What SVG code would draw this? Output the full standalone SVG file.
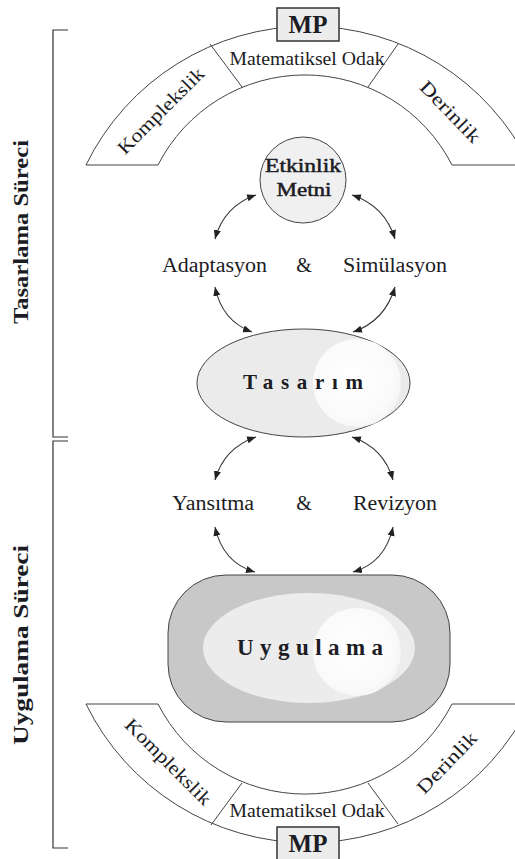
<svg xmlns="http://www.w3.org/2000/svg" width="515" height="859" viewBox="0 0 515 859">
<style>
text{font-family:"Liberation Serif","Times New Roman",serif;fill:#1c1c24}
.band{fill:#fff;stroke:#444;stroke-width:1}
.div{stroke:#444;stroke-width:1;fill:none}
.mpbox{fill:#ececec;stroke:#333;stroke-width:1.5}
.mp{font-size:25px;font-weight:bold;text-anchor:middle}
.bandtxt{font-size:19px;text-anchor:middle}
.lbl{font-size:20px;text-anchor:middle}
.side{font-size:20px;font-weight:bold;text-anchor:middle}
.conn{fill:none;stroke:#333;stroke-width:1.1;marker-start:url(#ah);marker-end:url(#ah)}
.bracket{fill:none;stroke:#333;stroke-width:1.2}
.node-txt{font-size:19px;text-anchor:middle;stroke:#1c1c24;stroke-width:0.5}
</style>
<defs>
<marker id="ah" viewBox="0 0 10 10" refX="10" refY="5" markerWidth="9" markerHeight="9" markerUnits="userSpaceOnUse" orient="auto-start-reverse">
<path d="M0,1 L10,5 L0,9 Z" fill="#222"/>
</marker>
<radialGradient id="hl" cx="0.45" cy="0.45" r="0.6">
<stop offset="0" stop-color="#ffffff"/>
<stop offset="0.8" stop-color="#fafafa"/>
<stop offset="1" stop-color="#f3f3f3"/>
</radialGradient>
</defs>

<g id="brackets">
<path class="bracket" d="M68,30 H53 V437 H68"/>
<path class="bracket" d="M68,441 H53 V848 H68"/>
<text class="side" transform="translate(28,232) rotate(-90)" textLength="184" lengthAdjust="spacingAndGlyphs">Tasarlama Süreci</text>
<text class="side" transform="translate(28,645) rotate(-90)" textLength="200" lengthAdjust="spacingAndGlyphs">Uygulama Süreci</text>
</g>

<g id="top-band">
<path class="band" d="M86,165 A247,247 0 0 1 530,165 L452,165 A165,165 0 0 0 158,165 Z"/>
<line class="div" x1="210" y1="44" x2="242" y2="87"/>
<line class="div" x1="398" y1="44" x2="368" y2="87"/>
<text class="bandtxt" x="307" y="65" textLength="155" lengthAdjust="spacingAndGlyphs">Matematiksel Odak</text>
<text class="bandtxt" transform="translate(161,111) rotate(-45)" y="6" textLength="114" lengthAdjust="spacingAndGlyphs">Komplekslik</text>
<text class="bandtxt" transform="translate(450,112) rotate(46)" y="6" textLength="78" lengthAdjust="spacingAndGlyphs">Derinlik</text>
</g>
<g id="mp-top">
<rect class="mpbox" x="277" y="8" width="62" height="33"/>
<text class="mp" x="308" y="33">MP</text>
</g>

<g id="etkinlik-metni">
<circle cx="303" cy="180" r="43" fill="#f0f0f0" stroke="#444" stroke-width="1"/>
<text class="node-txt" x="303" y="172" textLength="76" lengthAdjust="spacingAndGlyphs">Etkinlik</text>
<text class="node-txt" x="304" y="196" textLength="55" lengthAdjust="spacingAndGlyphs">Metni</text>
</g>

<g id="labels-1">
<text class="lbl" x="214.5" y="272" textLength="105" lengthAdjust="spacingAndGlyphs">Adaptasyon</text>
<text class="lbl" x="304" y="272">&amp;</text>
<text class="lbl" x="395" y="272" textLength="104" lengthAdjust="spacingAndGlyphs">Simülasyon</text>
</g>

<g id="tasarim">
<ellipse cx="303.5" cy="383" rx="106.5" ry="54" fill="#ebebeb" stroke="#444" stroke-width="1"/>
<circle cx="357" cy="383" r="44" fill="url(#hl)"/>
<text x="303" y="389" font-size="21" font-weight="bold" text-anchor="middle" textLength="120" lengthAdjust="spacing">Tasarım</text>
</g>

<g id="labels-2">
<text class="lbl" x="213" y="510" textLength="82" lengthAdjust="spacingAndGlyphs">Yansıtma</text>
<text class="lbl" x="304" y="510">&amp;</text>
<text class="lbl" x="395" y="510" textLength="84" lengthAdjust="spacingAndGlyphs">Revizyon</text>
</g>

<g id="uygulama">
<rect x="168" y="575" width="282" height="147" rx="58" ry="58" fill="#c8c8c8" stroke="#444" stroke-width="1"/>
<ellipse cx="309" cy="648" rx="106" ry="55" fill="#ececec"/>
<circle cx="357" cy="652" r="44" fill="url(#hl)"/>
<text x="310" y="655" font-size="23" font-weight="bold" text-anchor="middle" textLength="146" lengthAdjust="spacing">Uygulama</text>
</g>

<g id="bottom-band">
<path class="band" d="M86,704 A247,247 0 0 0 530,704 L452,704 A165,165 0 0 1 158,704 Z"/>
<line class="div" x1="211" y1="825" x2="242" y2="783"/>
<line class="div" x1="398" y1="824" x2="368" y2="783"/>
<text class="bandtxt" x="307" y="817" textLength="155" lengthAdjust="spacingAndGlyphs">Matematiksel Odak</text>
<text class="bandtxt" transform="translate(168,762) rotate(45)" y="6" textLength="114" lengthAdjust="spacingAndGlyphs">Komplekslik</text>
<text class="bandtxt" transform="translate(447,763) rotate(-46)" y="6" textLength="78" lengthAdjust="spacingAndGlyphs">Derinlik</text>
</g>
<g id="mp-bottom">
<rect class="mpbox" x="277" y="827" width="62" height="33"/>
<text class="mp" x="308" y="852">MP</text>
</g>

<g id="connectors">
<path class="conn" d="M256,195 Q224,206 215,239"/>
<path class="conn" d="M352,195 Q385,206 395,239"/>
<path class="conn" d="M215,287 Q222,321 252,332"/>
<path class="conn" d="M395,287 Q385,321 353,332"/>
<path class="conn" d="M256,437 Q224,448 215,480"/>
<path class="conn" d="M352,437 Q384,448 393,480"/>
<path class="conn" d="M215,527 Q223,563 255,572"/>
<path class="conn" d="M393,527 Q385,563 353,572"/>
</g>
</svg>
